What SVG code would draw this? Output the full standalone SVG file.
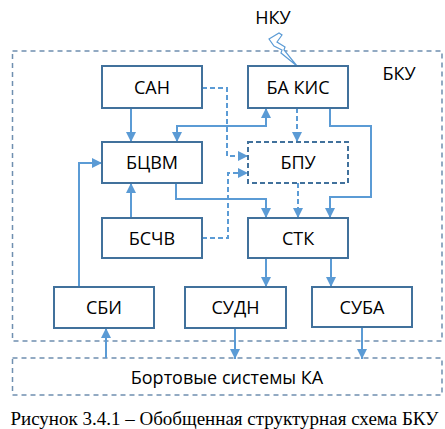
<svg xmlns="http://www.w3.org/2000/svg" width="445" height="429" viewBox="0 0 445 429">
<style>
.box{fill:#fff;stroke:#41719C;stroke-width:2}
.dbox{fill:#fff;stroke:#41719C;stroke-width:2;stroke-dasharray:5 3}
.frame{fill:none;stroke:#6F8FB0;stroke-width:1.5;stroke-dasharray:5 4}
.lbl{font-family:"Open Sans","Noto Sans","Liberation Sans",sans-serif;font-size:18px;fill:#000;text-anchor:middle}
.ln{fill:none;stroke:#5B9BD5;stroke-width:2}
.dl{fill:none;stroke:#5B9BD5;stroke-width:2;stroke-dasharray:5 3}
.cap{font-family:"Liberation Serif","Times New Roman",serif;font-size:19px;fill:#000;text-anchor:middle}
</style>
<defs>
<marker id="ah" viewBox="0 0 10 10" refX="10" refY="5" markerWidth="5" markerHeight="5" orient="auto-start-reverse" markerUnits="strokeWidth">
<path d="M0,0 L10,5 L0,10 Z" fill="#5B9BD5"/>
</marker>
</defs>
<rect width="445" height="429" fill="#fff"/>
<g id="frame-bku">
<rect class="frame" x="12.5" y="51" width="429.5" height="290"/>
<text class="lbl" x="399" y="80">БКУ</text>
</g>
<g id="bortovye">
<rect class="frame" x="12.5" y="358" width="429.5" height="37"/>
<text class="lbl" x="227" y="384">Бортовые системы КА</text>
</g>
<g id="nku">
<text class="lbl" x="273" y="24">НКУ</text>
<path d="M269,39 L279,33 L282,35 L277,42 L285,47 L284,50 L297,66 L281,53 L282,50 L274,46 Z" fill="#fff" stroke="#5B9BD5" stroke-width="1.2" stroke-linejoin="miter"/>
</g>
<g id="connectors">
<path class="ln" d="M131,108 V142" marker-end="url(#ah)"/>
<path class="ln" d="M177,142 V126 H266 V108" marker-start="url(#ah)" marker-end="url(#ah)"/>
<path class="dl" d="M202,88 H227 V156 H248" marker-end="url(#ah)"/>
<path class="dl" d="M297,108 V142" marker-end="url(#ah)"/>
<path class="ln" d="M330,108 V126 H371 V197 H330 V218" marker-end="url(#ah)"/>
<path class="ln" d="M176,183 V199 H266 V218" marker-end="url(#ah)"/>
<path class="dl" d="M298,183 V218" marker-end="url(#ah)"/>
<path class="ln" d="M131,218 V183" marker-end="url(#ah)"/>
<path class="dl" d="M202,238 H228 V173 H248" marker-end="url(#ah)"/>
<path class="ln" d="M79,287 V163 H102" marker-end="url(#ah)"/>
<path class="ln" d="M266,258 V287" marker-end="url(#ah)"/>
<path class="ln" d="M331,258 V287" marker-end="url(#ah)"/>
<path class="ln" d="M106,358 V328" marker-end="url(#ah)"/>
<path class="ln" d="M235,328 V359" marker-end="url(#ah)"/>
<path class="ln" d="M362,327 V359" marker-end="url(#ah)"/>
</g>
<g id="san"><rect class="box" x="102" y="66" width="100" height="42"/><text class="lbl" x="152" y="94">САН</text></g>
<g id="bakis"><rect class="box" x="248" y="66" width="100" height="42"/><text class="lbl" x="298" y="94">БА КИС</text></g>
<g id="bcvm"><rect class="box" x="102" y="142" width="100" height="41"/><text class="lbl" x="152" y="169">БЦВМ</text></g>
<g id="bpu"><rect class="dbox" x="248" y="142" width="100" height="41"/><text class="lbl" x="298" y="169">БПУ</text></g>
<g id="bschv"><rect class="box" x="102" y="218" width="100" height="40"/><text class="lbl" x="152" y="244.5">БСЧВ</text></g>
<g id="stk"><rect class="box" x="248" y="218" width="100" height="40"/><text class="lbl" x="298" y="244.5">СТК</text></g>
<g id="sbi"><rect class="box" x="54" y="287" width="100" height="41"/><text class="lbl" x="104" y="314">СБИ</text></g>
<g id="sudn"><rect class="box" x="185" y="287" width="101" height="41"/><text class="lbl" x="235.5" y="314">СУДН</text></g>
<g id="suba"><rect class="box" x="312" y="287" width="100" height="40"/><text class="lbl" x="362" y="313.5">СУБА</text></g>
<text class="cap" x="224.5" y="425">Рисунок 3.4.1 – Обобщенная структурная схема БКУ</text>
</svg>
